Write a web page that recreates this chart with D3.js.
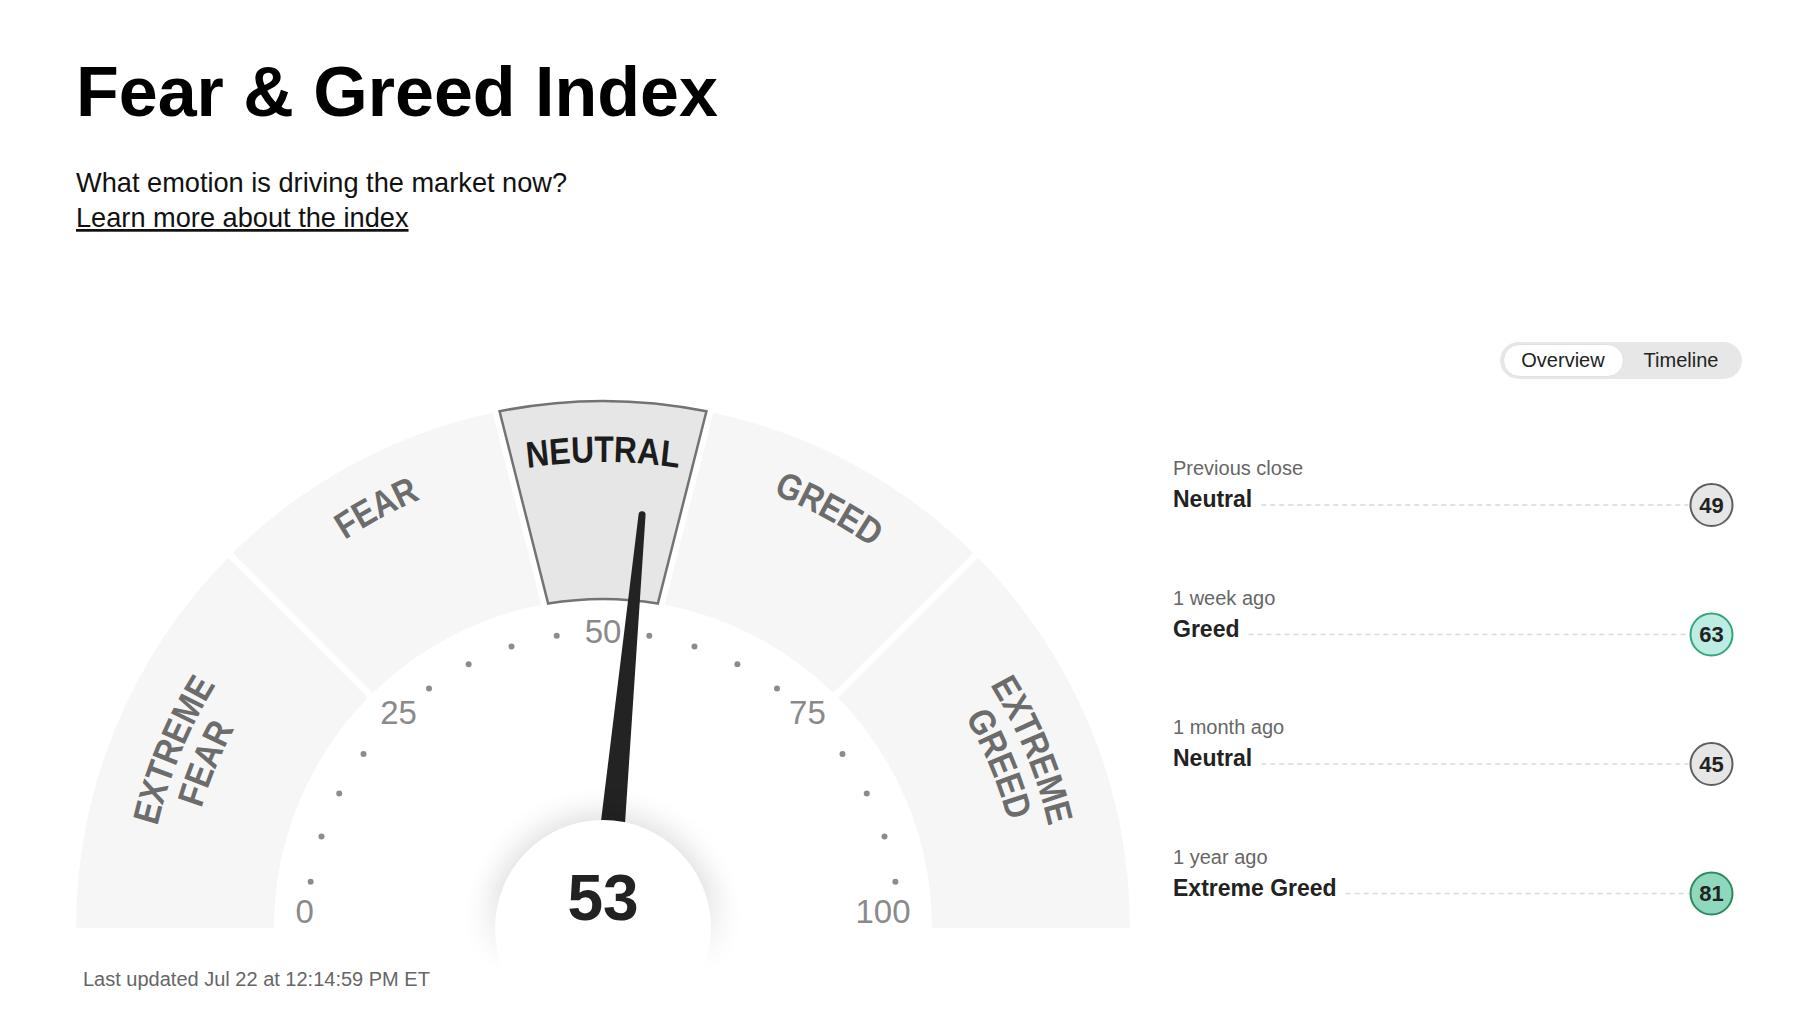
<!DOCTYPE html>
<html>
<head>
<meta charset="utf-8">
<script src="https://cdn.jsdelivr.net/npm/d3@7/dist/d3.min.js"></script>
<style>
  html, body { margin: 0; padding: 0; background: #fff; }
  svg { display: block; }
  text { font-family: "Liberation Sans", Arial, Helvetica, sans-serif; }
</style>
</head>
<body>
<svg id="chart" width="1800" height="1021"></svg>
<script>
// ---------------- DATA ----------------
const zoneNames = ["EXTREME FEAR", "FEAR", "NEUTRAL", "GREED", "EXTREME GREED"];
const zoneBounds = [0, 25, 45, 55, 75, 100];
const currentValue = 53;
const tickLabels = [0, 25, 50, 75, 100];
const dotValues = [5, 10, 15, 20, 30, 35, 40, 45, 55, 60, 65, 70, 80, 85, 90, 95];
const historyPeriods = ["Previous close", "1 week ago", "1 month ago", "1 year ago"];
const historyRatings = ["Neutral", "Greed", "Neutral", "Extreme Greed"];
const historyValues = [49, 63, 45, 81];
const lastUpdated = "Last updated Jul 22 at 12:14:59 PM ET";

// ---------------- LAYOUT ----------------
const W = 1800, H = 1021;
const cx = 603, cy = 928;
const R_OUT = 527, R_IN = 329;
const GAP = 7;
const svg = d3.select("#chart");
const defs = svg.append("defs");

const angle = d3.scaleLinear().domain([0, 100]).range([-Math.PI / 2, Math.PI / 2]);
const labelAngle = d3.scaleLinear().domain([0, 100]).range([-87 * Math.PI / 180, 87 * Math.PI / 180]);
const polar = (r, a) => [cx + r * Math.sin(a), cy - r * Math.cos(a)];

// header
svg.append("text").attr("x", 76).attr("y", 116)
  .attr("font-size", 70).attr("font-weight", "bold").attr("fill", "#000")
  .text("Fear & Greed Index");
svg.append("text").attr("x", 76).attr("y", 192)
  .attr("font-size", 27.2).attr("fill", "#111")
  .text("What emotion is driving the market now?");
svg.append("text").attr("x", 76).attr("y", 227)
  .attr("font-size", 27.2).attr("fill", "#111")
  .style("text-decoration", "underline")
  .text("Learn more about the index");

// ---------------- GAUGE ----------------
function boundaryLean(v) {
  if (v <= 0 || v >= 100) return { o: v, i: v };
  const s = Math.abs(v - 50) < 10 ? Math.sign(v - 50) : 0;
  return { o: v + s * 1.5, i: v + s * 0.67 };
}
function zoneGeom(k) {
  const b0 = zoneBounds[k], b1 = zoneBounds[k + 1];
  const l0 = boundaryLean(b0), l1 = boundaryLean(b1);
  const g0 = b0 > 0 ? 1 : 0, g1 = b1 < 100 ? 1 : 0;
  return {
    ao0: angle(l0.o) + g0 * GAP / 2 / R_OUT,
    ai0: angle(l0.i) + g0 * GAP / 2 / R_IN,
    ao1: angle(l1.o) - g1 * GAP / 2 / R_OUT,
    ai1: angle(l1.i) - g1 * GAP / 2 / R_IN,
    mid: (l0.o + l1.o) / 2
  };
}
function zonePath(g) {
  const p1 = polar(R_OUT, g.ao0), p2 = polar(R_OUT, g.ao1);
  const p3 = polar(R_IN, g.ai1), p4 = polar(R_IN, g.ai0);
  return `M${p1}A${R_OUT},${R_OUT} 0 0 1 ${p2}L${p3}A${R_IN},${R_IN} 0 0 0 ${p4}Z`;
}
const activeIdx = zoneBounds.findIndex((b, i) => currentValue >= b && currentValue < zoneBounds[i + 1]);
const zones = zoneNames.map((n, k) => ({ name: n, k, g: zoneGeom(k), active: k === activeIdx }));

const gauge = svg.append("g");
gauge.selectAll("path.zone").data(zones).join("path")
  .attr("class", "zone")
  .attr("d", d => zonePath(d.g))
  .attr("fill", d => d.active ? "#e6e6e6" : "#f6f6f6")
  .attr("stroke", d => d.active ? "#737373" : "none")
  .attr("stroke-width", d => d.active ? 2.5 : 0)
  .attr("stroke-linejoin", "miter");

// zone labels: curved, horizontally condensed text
const SX = 0.86;
const arcRadii = { single: 466, line1: 457, line2: 419 };
Object.entries(arcRadii).forEach(([key, r]) => {
  defs.append("path").attr("id", "arc-" + key)
    .attr("d", `M${-r / SX},0A${r / SX},${r} 0 0 1 ${r / SX},0`);
});
zones.forEach(z => {
  const words = z.name.split(" ");
  const lines = words.length > 1 ? [["line1", words[0]], ["line2", words[1]]] : [["single", words[0]]];
  const midDeg = angle(z.g.mid) * 180 / Math.PI;
  const lg = gauge.append("g")
    .attr("transform", `translate(${cx},${cy}) rotate(${midDeg}) scale(${SX},1)`);
  lines.forEach(([key, word]) => {
    lg.append("text")
      .attr("font-family", "Roboto, 'DejaVu Sans', sans-serif")
      .attr("font-weight", 900)
      .attr("font-size", 37)
      .attr("fill", z.active ? "#1c1c1c" : "#6c6c6c")
      .append("textPath")
      .attr("href", "#arc-" + key)
      .attr("startOffset", "50%")
      .attr("text-anchor", "middle")
      .text(word);
  });
});

// dots
const R_DOT = 296;
gauge.selectAll("circle.dot").data(dotValues).join("circle")
  .attr("class", "dot")
  .attr("cx", d => polar(R_DOT, angle(d))[0])
  .attr("cy", d => polar(R_DOT, angle(d))[1])
  .attr("r", 3).attr("fill", "#8c8c8c");

// tick labels
const R_LAB = 297, R_LAB_EDGE = 308;
const firstT = tickLabels[0], lastT = tickLabels[tickLabels.length - 1];
gauge.selectAll("text.tick").data(tickLabels).join("text")
  .attr("class", "tick")
  .each(function (d) {
    const edge = d === firstT || d === lastT;
    const p = polar(edge ? R_LAB_EDGE : R_LAB, labelAngle(d));
    d3.select(this).attr("x", p[0]).attr("y", p[1])
      .attr("text-anchor", d === firstT ? "start" : d === lastT ? "end" : "middle");
  })
  .attr("dy", "0.35em")
  .attr("font-size", 33).attr("fill", "#8a8a8a")
  .text(d => d);

// needle
const L = 415, hw0 = 15, hw1 = 3.5;
const needleD = `M${-hw0},0L${-hw1},${-L}A${hw1},${hw1} 0 0 1 ${hw1},${-L}L${hw0},0Z`;
gauge.append("path")
  .attr("d", needleD)
  .attr("fill", "#232323")
  .attr("transform", `translate(${cx},${cy}) rotate(${angle(currentValue) * 180 / Math.PI})`);

// center circle with soft shadow
const flt = defs.append("filter").attr("id", "blur").attr("x", "-50%").attr("y", "-50%").attr("width", "200%").attr("height", "200%");
flt.append("feGaussianBlur").attr("stdDeviation", 14);
const grad = defs.append("linearGradient").attr("id", "fade")
  .attr("gradientUnits", "userSpaceOnUse").attr("x1", 0).attr("x2", 0).attr("y1", cy - 40).attr("y2", cy + 45);
grad.append("stop").attr("offset", 0).attr("stop-color", "#fff");
grad.append("stop").attr("offset", 1).attr("stop-color", "#000");
const mask = defs.append("mask").attr("id", "fadeMask").attr("maskUnits", "userSpaceOnUse")
  .attr("x", 0).attr("y", 0).attr("width", W).attr("height", H);
mask.append("rect").attr("x", 0).attr("y", 0).attr("width", W).attr("height", H).attr("fill", "url(#fade)");
const R_C = 108;
gauge.append("circle").attr("cx", cx).attr("cy", cy).attr("r", R_C + 8)
  .attr("fill", "#000").attr("opacity", 0.12)
  .attr("filter", "url(#blur)").attr("mask", "url(#fadeMask)");
gauge.append("circle").attr("cx", cx).attr("cy", cy).attr("r", R_C).attr("fill", "#fff");
gauge.append("text").attr("x", cx).attr("y", cy - 8)
  .attr("text-anchor", "middle").attr("font-size", 64).attr("font-weight", "bold").attr("fill", "#222")
  .text(currentValue);

svg.append("text").attr("x", 83).attr("y", 986)
  .attr("font-size", 20).attr("fill", "#666").text(lastUpdated);

// ---------------- TOGGLE ----------------
const tg = svg.append("g");
tg.append("rect").attr("x", 1500).attr("y", 342).attr("width", 242).attr("height", 37).attr("rx", 18.5)
  .attr("fill", "#e7e7e7");
tg.append("rect").attr("x", 1503.5).attr("y", 344.5).attr("width", 120).attr("height", 32).attr("rx", 16)
  .attr("fill", "#fff").attr("stroke", "#e0e0e0").attr("stroke-width", 1);
tg.append("text").attr("x", 1563).attr("y", 367).attr("text-anchor", "middle")
  .attr("font-size", 20).attr("fill", "#222").text("Overview");
tg.append("text").attr("x", 1681).attr("y", 367).attr("text-anchor", "middle")
  .attr("font-size", 20).attr("fill", "#222").text("Timeline");

// ---------------- HISTORY LIST ----------------
const ratingFill = { "Extreme Fear": "#f2b6b6", "Fear": "#f8d7d7", "Neutral": "#e6e6e6", "Greed": "#bdece3", "Extreme Greed": "#8fd7bd" };
const ratingStroke = { "Extreme Fear": "#b33", "Fear": "#c55", "Neutral": "#5f5f5f", "Greed": "#34a57c", "Extreme Greed": "#2b8b5e" };
const rowY = d3.scalePoint().domain(historyPeriods).range([505, 893.5]);
const LIST_X = 1173, CIRC_X = 1711.5, CIRC_R = 21;
const rows = svg.append("g").selectAll("g.row").data(historyPeriods.map((p, i) => ({ p, rating: historyRatings[i], v: historyValues[i] })))
  .join("g").attr("class", "row");
rows.append("text").attr("x", LIST_X).attr("y", d => rowY(d.p) - 30)
  .attr("font-size", 20).attr("fill", "#666").text(d => d.p);
rows.append("text").attr("class", "rating").attr("x", LIST_X).attr("y", d => rowY(d.p) + 2)
  .attr("font-size", 23).attr("font-weight", "bold").attr("fill", "#222").text(d => d.rating);
rows.each(function (d) {
  const t = d3.select(this).select("text.rating").node();
  const w = t.getComputedTextLength();
  d3.select(this).insert("line", "text")
    .attr("x1", LIST_X + w + 9).attr("x2", CIRC_X - CIRC_R - 2)
    .attr("y1", rowY(d.p)).attr("y2", rowY(d.p))
    .attr("stroke", "#d9d9d9").attr("stroke-width", 1.3).attr("stroke-dasharray", "5,4");
});
rows.append("circle").attr("cx", CIRC_X).attr("cy", d => rowY(d.p)).attr("r", CIRC_R)
  .attr("fill", d => ratingFill[d.rating]).attr("stroke", d => ratingStroke[d.rating]).attr("stroke-width", 2);
rows.append("text").attr("x", CIRC_X).attr("y", d => rowY(d.p)).attr("dy", "0.36em")
  .attr("text-anchor", "middle").attr("font-size", 22).attr("font-weight", "bold").attr("fill", "#222")
  .text(d => d.v);
</script>
</body>
</html>
